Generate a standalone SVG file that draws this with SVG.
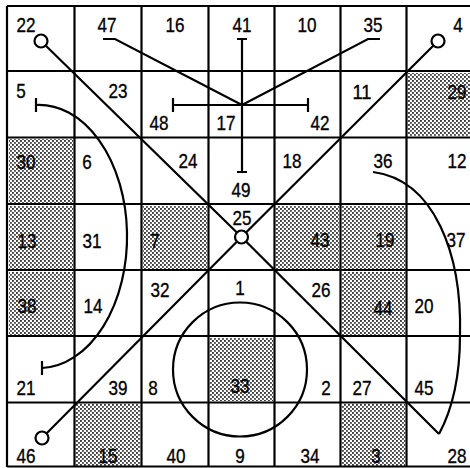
<svg xmlns="http://www.w3.org/2000/svg" width="470" height="468" viewBox="0 0 470 468">
<defs>
<pattern id="stip" width="4" height="4" patternUnits="userSpaceOnUse">
<rect width="4" height="4" fill="#ffffff"/>
<rect x="0" y="0" width="1.9" height="1.9" fill="#3a3a3a"/>
<rect x="2" y="2" width="1.9" height="1.9" fill="#555"/>
</pattern>
<style>
.g{stroke:#000;stroke-width:2.2;fill:none}
.c{stroke:#000;stroke-width:2.2;fill:none;stroke-linecap:butt}
.o{stroke:#000;stroke-width:2.2;fill:#fff}
.sh{fill:url(#stip)}
text{font-family:"Liberation Sans",Arial,sans-serif;font-size:21px;fill:#000;stroke:#000;stroke-width:0.35;text-anchor:middle}
</style>
</defs>
<rect width="470" height="468" fill="#fff"/>
<g id="shading">
<rect class="sh" x="408" y="73" width="62" height="63"/>
<rect class="sh" x="9" y="139" width="64" height="64"/>
<rect class="sh" x="9" y="206" width="64" height="63"/>
<rect class="sh" x="143" y="206" width="64" height="63"/>
<rect class="sh" x="276" y="206" width="63" height="63"/>
<rect class="sh" x="342" y="206" width="63" height="63"/>
<rect class="sh" x="9" y="272" width="64" height="63"/>
<rect class="sh" x="342" y="272" width="63" height="63"/>
<rect class="sh" x="210" y="338" width="63" height="63"/>
<rect class="sh" x="76" y="404" width="64" height="62"/>
<rect class="sh" x="342" y="404" width="63" height="62"/>
</g>
<g id="grid" class="g">
<path d="M7,6V467M74.5,6V467M141.5,6V467M208.5,6V467M274.5,6V467M340.5,6V467M406.5,6V467"/>
<path d="M7,6H470M7,71H470M7,137.5H470M7,204H470M7,270H470M7,336H470M7,402.5H470M7,466.5H470"/>
</g>
<g id="connectors" class="c">
<path d="M41,41L241.5,237L439,434"/>
<path d="M42,438L241.5,237L438,41"/>
<path d="M439,434C 452,410 460,380 460,335C 462,255 435,180 373,172"/>
<path d="M36,105A 88 131.5 0 0 1 42,368"/>
<path d="M36,98V112M42,361V375"/>
<path d="M103,39H115L242,105L368,39H380"/>
<path d="M242,39V172M237,39H247M237,172H247"/>
<path d="M173,105H308M173,98V112M308,98V112"/>
<circle cx="240" cy="369.5" r="67"/>
</g>
<g id="n22"><circle class="o" cx="41" cy="41" r="6.5"/><text x="26" y="32" textLength="19" lengthAdjust="spacingAndGlyphs">22</text></g>
<g id="n4"><circle class="o" cx="438" cy="41" r="6.5"/><text x="458" y="32" textLength="9.5" lengthAdjust="spacingAndGlyphs">4</text></g>
<g id="n46"><circle class="o" cx="42" cy="438" r="6.5"/><text x="26" y="463" textLength="19" lengthAdjust="spacingAndGlyphs">46</text></g>
<g id="n25"><circle class="o" cx="241.5" cy="237" r="6.5"/><text x="242" y="225" textLength="19" lengthAdjust="spacingAndGlyphs">25</text></g>
<g id="labels">
<text x="107" y="32" textLength="19" lengthAdjust="spacingAndGlyphs">47</text>
<text x="175" y="32" textLength="19" lengthAdjust="spacingAndGlyphs">16</text>
<text x="242" y="32" textLength="19" lengthAdjust="spacingAndGlyphs">41</text>
<text x="307" y="32" textLength="19" lengthAdjust="spacingAndGlyphs">10</text>
<text x="373" y="32" textLength="19" lengthAdjust="spacingAndGlyphs">35</text>
<text x="21" y="98" textLength="9.5" lengthAdjust="spacingAndGlyphs">5</text>
<text x="118" y="98" textLength="19" lengthAdjust="spacingAndGlyphs">23</text>
<text x="159" y="130" textLength="19" lengthAdjust="spacingAndGlyphs">48</text>
<text x="226" y="130" textLength="19" lengthAdjust="spacingAndGlyphs">17</text>
<text x="320" y="130" textLength="19" lengthAdjust="spacingAndGlyphs">42</text>
<text x="362" y="99" textLength="19" lengthAdjust="spacingAndGlyphs">11</text>
<text x="457" y="99" textLength="19" lengthAdjust="spacingAndGlyphs">29</text>
<text x="26" y="169" textLength="19" lengthAdjust="spacingAndGlyphs">30</text>
<text x="87" y="169" textLength="9.5" lengthAdjust="spacingAndGlyphs">6</text>
<text x="188" y="168" textLength="19" lengthAdjust="spacingAndGlyphs">24</text>
<text x="241" y="197" textLength="19" lengthAdjust="spacingAndGlyphs">49</text>
<text x="292" y="168" textLength="19" lengthAdjust="spacingAndGlyphs">18</text>
<text x="383" y="168" textLength="19" lengthAdjust="spacingAndGlyphs">36</text>
<text x="457" y="168" textLength="19" lengthAdjust="spacingAndGlyphs">12</text>
<text x="27" y="248" textLength="19" lengthAdjust="spacingAndGlyphs">13</text>
<text x="92" y="248" textLength="19" lengthAdjust="spacingAndGlyphs">31</text>
<text x="155" y="248" textLength="9.5" lengthAdjust="spacingAndGlyphs">7</text>
<text x="320" y="247" textLength="19" lengthAdjust="spacingAndGlyphs">43</text>
<text x="385" y="247" textLength="19" lengthAdjust="spacingAndGlyphs">19</text>
<text x="456" y="247" textLength="19" lengthAdjust="spacingAndGlyphs">37</text>
<text x="27" y="313" textLength="19" lengthAdjust="spacingAndGlyphs">38</text>
<text x="93" y="313" textLength="19" lengthAdjust="spacingAndGlyphs">14</text>
<text x="160" y="297" textLength="19" lengthAdjust="spacingAndGlyphs">32</text>
<text x="240" y="295" textLength="9.5" lengthAdjust="spacingAndGlyphs">1</text>
<text x="321" y="297" textLength="19" lengthAdjust="spacingAndGlyphs">26</text>
<text x="383" y="315" textLength="19" lengthAdjust="spacingAndGlyphs">44</text>
<text x="424" y="313" textLength="19" lengthAdjust="spacingAndGlyphs">20</text>
<text x="26" y="395" textLength="19" lengthAdjust="spacingAndGlyphs">21</text>
<text x="118" y="395" textLength="19" lengthAdjust="spacingAndGlyphs">39</text>
<text x="153" y="395" textLength="9.5" lengthAdjust="spacingAndGlyphs">8</text>
<text x="240" y="393" textLength="19" lengthAdjust="spacingAndGlyphs">33</text>
<text x="326" y="395" textLength="9.5" lengthAdjust="spacingAndGlyphs">2</text>
<text x="362" y="395" textLength="19" lengthAdjust="spacingAndGlyphs">27</text>
<text x="424" y="395" textLength="19" lengthAdjust="spacingAndGlyphs">45</text>
<text x="108" y="463" textLength="19" lengthAdjust="spacingAndGlyphs">15</text>
<text x="176" y="463" textLength="19" lengthAdjust="spacingAndGlyphs">40</text>
<text x="240" y="463" textLength="9.5" lengthAdjust="spacingAndGlyphs">9</text>
<text x="310" y="463" textLength="19" lengthAdjust="spacingAndGlyphs">34</text>
<text x="376" y="463" textLength="9.5" lengthAdjust="spacingAndGlyphs">3</text>
<text x="457" y="463" textLength="19" lengthAdjust="spacingAndGlyphs">28</text>
</g>
</svg>
